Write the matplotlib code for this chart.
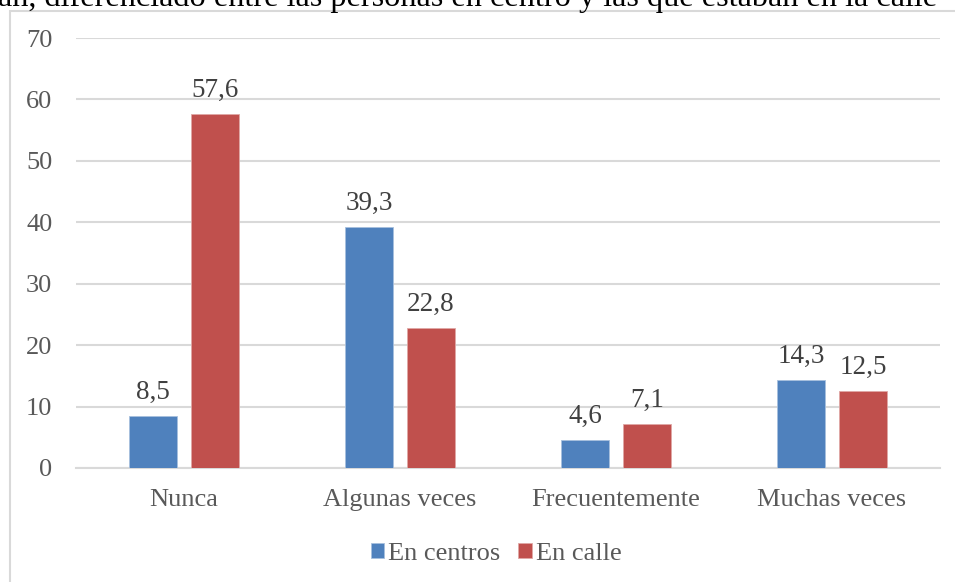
import numpy as np
import matplotlib.pyplot as plt
from matplotlib.patches import Rectangle

categorias = ['Nunca', 'Algunas veces', 'Frecuentemente', 'Muchas veces']
en_centros = [8.5, 39.3, 4.6, 14.3]
en_calle = [57.6, 22.8, 7.1, 12.5]
series = ['En centros', 'En calle']
titulo = 'an, diferenciado entre las personas en centro y las que estaban en la calle'

plt.rcParams['font.family'] = ['Liberation Serif', 'DejaVu Serif']

AZUL = '#4F81BD'
ROJO = '#C0504D'
GRIS = '#595959'

fig = plt.figure(figsize=(9.55, 5.82), dpi=100)
ax = fig.add_axes([76 / 955, 1 - 468 / 582, 864 / 955, 430 / 582])

# marco del gráfico (cortado arriba/derecha como en el documento)
fig.patches.append(Rectangle((10 / 955, -0.1), 1.2, 1 - 11 / 582 + 0.1,
                             transform=fig.transFigure, fill=False,
                             edgecolor='#D9D9D9', linewidth=1.5))

# título cortado del documento
fig.text(-0.002, 1 - 6 / 582, titulo, fontsize=23.2, color='black',
         ha='left', va='baseline')

x = np.arange(len(categorias))
ancho = 0.225
off = 0.143
b1 = ax.bar(x - off, en_centros, ancho, color=AZUL, edgecolor='#A7C0DE',
            linewidth=0.6, label=series[0], zorder=3)
b2 = ax.bar(x + off, en_calle, ancho, color=ROJO, edgecolor='#DFA8A6',
            linewidth=0.6, label=series[1], zorder=3)

for barras in (b1, b2):
    for b in barras:
        h = b.get_height()
        ax.annotate(f'{h:.1f}'.replace('.', ','),
                    (b.get_x() + b.get_width() / 2, h),
                    xytext=(0, 8), textcoords='offset points',
                    ha='center', va='bottom', fontsize=19.5, color='#404040')

ax.set_xlim(-0.5, 3.5)
ax.set_ylim(0, 70)
ax.set_yticks(range(0, 71, 10))
ax.set_xticks(x)
ax.set_xticklabels(categorias)
ax.tick_params(axis='y', length=0, pad=17, labelsize=19, labelcolor=GRIS)
ax.tick_params(axis='x', length=0, pad=15, labelsize=19, labelcolor=GRIS)
ax.grid(axis='y', color='#D9D9D9', linewidth=1.5, zorder=0)
for s in ['top', 'right', 'left']:
    ax.spines[s].set_visible(False)
ax.spines['bottom'].set_color('#D9D9D9')
ax.spines['bottom'].set_linewidth(1.5)

fig.legend(loc='center', bbox_to_anchor=(496 / 955, 1 - 554 / 582), ncol=2,
           frameon=False, fontsize=19, labelcolor=GRIS,
           handlelength=0.5, handleheight=0.5, handletextpad=0.15,
           columnspacing=0.7)

plt.savefig('out.png', dpi=100)
plt.close()
